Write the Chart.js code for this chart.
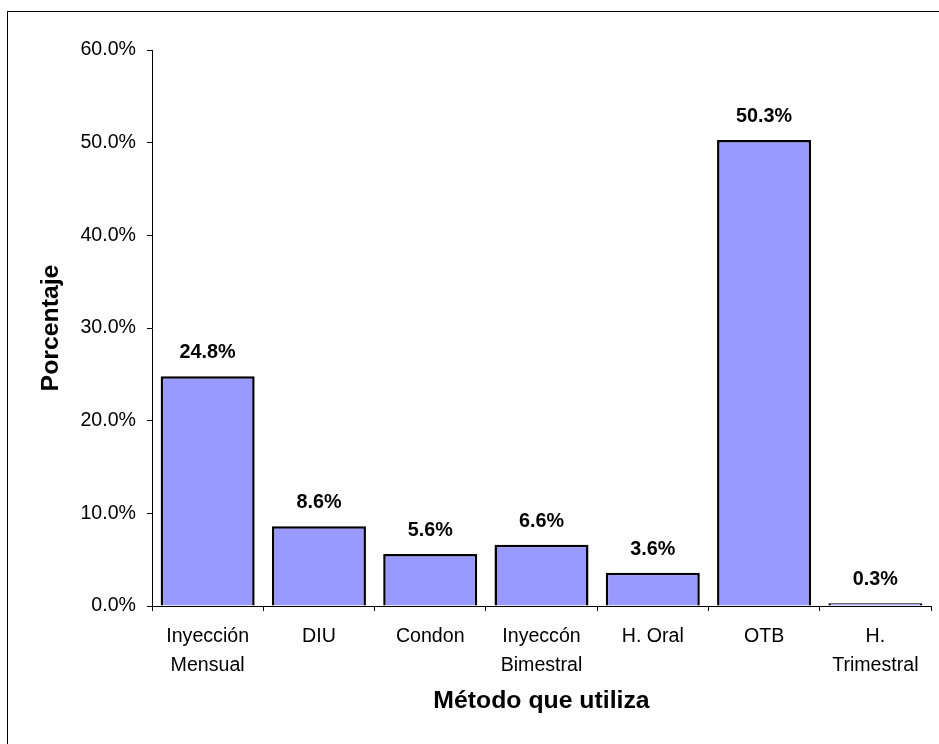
<!DOCTYPE html>
<html>
<head>
<meta charset="utf-8">
<script src="https://cdn.jsdelivr.net/npm/chart.js@4/dist/chart.umd.min.js"></script>
<style>
  html, body { margin: 0; padding: 0; background: #fff; }
  #wrap { position: relative; width: 939px; height: 744px; overflow: hidden; }
  #frame { position: absolute; left: 7px; top: 11px; width: 1000px; height: 1000px;
           border-left: 1px solid #000; border-top: 1px solid #000; box-sizing: border-box; }
  canvas { position: absolute; left: 0; top: 0; }
</style>
</head>
<body>
<div id="wrap">
  <div id="frame"></div>
  <canvas id="c" width="939" height="744"></canvas>
</div>
<script>
// Contraceptive method in use (% of respondents)
const categories = [
  ["Inyección", "Mensual"],
  "DIU",
  "Condon",
  ["Inyeccón", "Bimestral"],
  "H. Oral",
  "OTB",
  ["H.", "Trimestral"]
];
const percentages = [24.8, 8.6, 5.6, 6.6, 3.6, 50.3, 0.3];
const yTicks = [0, 10, 20, 30, 40, 50, 60];

const FONT = "'Liberation Sans', Arial, Helvetica, sans-serif";
Chart.defaults.font.family = FONT;
Chart.defaults.color = '#000';

// Writes each bar's value above it
const valueLabels = {
  id: 'valueLabels',
  afterDatasetsDraw(chart) {
    const ctx = chart.ctx;
    const meta = chart.getDatasetMeta(0);
    ctx.save();
    ctx.font = "bold 19.8px " + FONT;
    ctx.fillStyle = '#000';
    ctx.textAlign = 'center';
    ctx.textBaseline = 'middle';
    meta.data.forEach((bar, i) => {
      ctx.fillText(percentages[i].toFixed(1) + '%', bar.x, bar.y - 23.5);
    });
    ctx.restore();
  }
};

new Chart(document.getElementById('c'), {
  type: 'bar',
  data: {
    labels: categories,
    datasets: [{
      data: percentages,
      backgroundColor: '#9999FF',
      borderColor: '#000',
      borderWidth: 2.5,
      barPercentage: 0.845,
      categoryPercentage: 1
    }]
  },
  options: {
    responsive: false,
    animation: false,
    layout: { padding: { left: 0, top: 50, right: 8, bottom: 0 } },
    plugins: { legend: { display: false }, tooltip: { enabled: false } },
    scales: {
      x: {
        grid: { display: true, drawOnChartArea: false, drawTicks: true, tickLength: 5, color: '#000', offset: true },
        border: { display: true, color: '#000', width: 1 },
        ticks: { font: { size: 19.6, lineHeight: 1.45 }, color: '#000', padding: 11.5, maxRotation: 0, minRotation: 0, autoSkip: false },
        title: { display: true, text: 'Método que utiliza', font: { size: 24.8, weight: 'bold' }, color: '#000',
                 padding: { top: 0, bottom: 28 } },
        afterFit(scale) { scale.height = 138; }
      },
      y: {
        min: 0, max: 60,
        afterBuildTicks(scale) { scale.ticks = yTicks.map(v => ({ value: v })); },
        grid: { display: true, drawOnChartArea: false, drawTicks: true, tickLength: 5, color: '#000' },
        border: { display: true, color: '#000', width: 1 },
        ticks: { font: { size: 19.6 }, color: '#000', padding: 11, callback: v => Number(v).toFixed(1) + '%' },
        title: { display: true, text: 'Porcentaje', font: { size: 24.8, weight: 'bold' }, color: '#000',
                 padding: { top: 36.5, bottom: 0 } },
        afterFit(scale) { scale.width = 152; }
      }
    }
  },
  plugins: [valueLabels]
});
</script>
</body>
</html>
